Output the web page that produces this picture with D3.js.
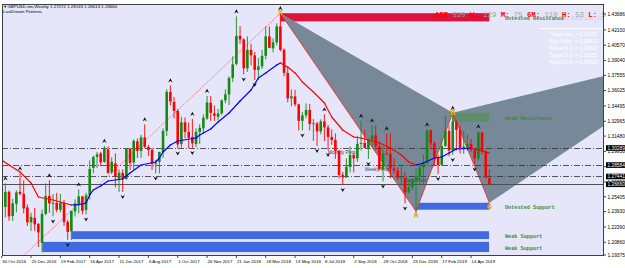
<!DOCTYPE html>
<html lang="en">
<head>
<meta charset="UTF-8">
<title>GBPUSD Weekly</title>
<script src="https://cdn.jsdelivr.net/npm/d3@7"></script>
<style>
  * { margin: 0; padding: 0; }
  body { background: #fff; width: 625px; height: 268px; overflow: hidden; }
  svg { display: block; font-family: "Liberation Sans", "DejaVu Sans", sans-serif; }
</style>
</head>
<body>
<svg id="chart" width="625" height="268"></svg>
<script>
// weekly bars, 30 Oct 2016 .. 19 May 2019 (index 0..133)
const opens = [1.2195,1.2440,1.2590,1.2350,1.2470,1.2590,1.2570,1.2435,1.2285,1.2330,1.2270,1.2080,1.2370,1.2550,1.2470,1.2480,1.2410,1.2480,1.2290,1.2195,
  1.2395,1.2470,1.2545,1.2410,1.2560,1.2830,1.2940,1.2975,1.2890,1.3015,1.2785,1.2875,1.2720,1.2780,1.2720,1.3020,1.2885,1.3095,1.3000,1.3135,
  1.3040,1.3010,1.2875,1.2890,1.2990,1.3200,1.3590,1.3490,1.3400,1.3070,1.3285,1.3190,1.3140,1.3070,1.3190,1.3225,1.3325,1.3480,1.3375,1.3340,
  1.3375,1.3505,1.3565,1.3730,1.3870,1.4150,1.4115,1.3825,1.4010,1.3955,1.3810,1.3845,1.3950,1.4145,1.4025,1.4085,1.4245,1.4010,1.3780,1.3525,
  1.3545,1.3465,1.3300,1.3355,1.3410,1.3270,1.3275,1.3195,1.3295,1.3235,1.3140,1.3110,1.3000,1.2760,1.2735,1.2840,1.2960,1.2925,1.3070,1.3080,
  1.3030,1.3110,1.3155,1.3045,1.2815,1.2975,1.2970,1.2825,1.2805,1.2730,1.2730,1.2585,1.2635,1.2700,1.2740,1.2835,1.2875,1.3205,1.3075,1.2940,
  1.2860,1.3050,1.3200,1.3005,1.3290,1.3210,1.3030,1.3045,1.3070,1.3010,1.2925,1.3185,1.2995,1.27272];
const highs = [1.2510,1.2675,1.2605,1.2520,1.2605,1.2775,1.2705,1.2465,1.2380,1.2430,1.2280,1.2415,1.2675,1.2705,1.2570,1.2580,1.2570,1.2510,1.2310,1.2400,
  1.2515,1.2615,1.2550,1.2580,1.2905,1.2950,1.2990,1.2990,1.3050,1.3045,1.2935,1.2975,1.2815,1.2815,1.3030,1.3030,1.3115,1.3125,1.3160,1.3265,
  1.3060,1.3030,1.2910,1.2990,1.3225,1.3615,1.3655,1.3540,1.3420,1.3340,1.3335,1.3285,1.3320,1.3225,1.3265,1.3365,1.3550,1.3550,1.3455,1.3420,
  1.3515,1.3615,1.3745,1.3945,1.4345,1.4250,1.4125,1.4145,1.4070,1.3990,1.3930,1.4010,1.4245,1.4245,1.4125,1.4275,1.4377,1.4025,1.3840,1.3615,
  1.3610,1.3470,1.3390,1.3475,1.3470,1.3320,1.3290,1.3315,1.3365,1.3260,1.3215,1.3175,1.3005,1.2790,1.2925,1.3045,1.2975,1.3150,1.3300,1.3210,
  1.3125,1.3255,1.3255,1.3095,1.3045,1.3175,1.3175,1.2930,1.2840,1.2840,1.2790,1.2705,1.2720,1.2820,1.2865,1.2960,1.3215,1.3215,1.3095,1.2965,
  1.3110,1.3350,1.3255,1.3380,1.3305,1.3255,1.3195,1.3165,1.3120,1.3020,1.3195,1.3190,1.3010,1.28133];
const lows = [1.2155,1.2335,1.2300,1.2300,1.2385,1.2555,1.2375,1.2250,1.2200,1.2200,1.2040,1.1985,1.2355,1.2380,1.2345,1.2385,1.2385,1.2250,1.2110,1.2110,
  1.2345,1.2375,1.2365,1.2365,1.2515,1.2775,1.2830,1.2845,1.2880,1.2770,1.2770,1.2635,1.2590,1.2590,1.2710,1.2810,1.2810,1.2930,1.2930,1.3025,
  1.2950,1.2810,1.2775,1.2775,1.2930,1.3150,1.3455,1.3325,1.3025,1.3030,1.3125,1.3025,1.3030,1.3040,1.3070,1.3170,1.3310,1.3300,1.3300,1.3305,
  1.3360,1.3475,1.3460,1.3690,1.3855,1.4070,1.3765,1.3790,1.3855,1.3710,1.3710,1.3820,1.3915,1.4025,1.3985,1.4055,1.3995,1.3745,1.3485,1.3445,
  1.3445,1.3205,1.3205,1.3325,1.3205,1.3100,1.3050,1.3165,1.3100,1.3010,1.3060,1.2920,1.2725,1.2660,1.2730,1.2785,1.2785,1.2890,1.3005,1.3030,
  1.2920,1.3045,1.3010,1.2815,1.2695,1.2960,1.2725,1.2770,1.2705,1.2660,1.2475,1.2575,1.2605,1.2395,1.2670,1.2670,1.2865,1.3015,1.2855,1.2770,
  1.2850,1.3040,1.2945,1.2960,1.3005,1.2975,1.2970,1.3000,1.2990,1.2865,1.2905,1.2965,1.2725,1.26613];
const closes = [1.2485,1.2590,1.2345,1.2475,1.2585,1.2570,1.2425,1.2285,1.2340,1.2265,1.2185,1.2370,1.2550,1.2475,1.2480,1.2410,1.2480,1.2290,1.2190,1.2400,
  1.2475,1.2545,1.2400,1.2555,1.2820,1.2940,1.2965,1.2885,1.3030,1.2780,1.2890,1.2745,1.2780,1.2720,1.3025,1.2880,1.3100,1.3000,1.3135,1.3040,
  1.3010,1.2870,1.2880,1.2990,1.3200,1.3590,1.3495,1.3400,1.3065,1.3285,1.3190,1.3130,1.3075,1.3190,1.3230,1.3330,1.3485,1.3380,1.3350,1.3375,
  1.3505,1.3565,1.3730,1.3865,1.4150,1.4115,1.3825,1.4010,1.3955,1.3810,1.3845,1.3950,1.4145,1.4030,1.4085,1.4245,1.4010,1.3780,1.3525,1.3545,
  1.3465,1.3300,1.3355,1.3410,1.3270,1.3275,1.3195,1.3295,1.3235,1.3140,1.3110,1.3000,1.2760,1.2735,1.2840,1.2960,1.2925,1.3070,1.3080,1.3030,
  1.3110,1.3155,1.3045,1.2815,1.2975,1.2970,1.2825,1.2805,1.2730,1.2730,1.2585,1.2635,1.2700,1.2740,1.2835,1.2875,1.3205,1.3075,1.2940,1.2860,
  1.3050,1.3200,1.3005,1.3290,1.3210,1.3030,1.3045,1.3070,1.3010,1.2925,1.3185,1.2995,1.2730,1.26660];

// moving average (bar index, price)
const maIdx = [0,2,5,8,10,14,16,19,21,23,24,25,27,29,33,35,38,42,43,44,46,48,53,54,57,59,62,65,68,70,72,75,76,
  78,80,82,85,88,90,93,96,98,103,106,109,111,113,115,118,120,122,124,127,128,130,133];
const maVal = [1.2909,1.2859,1.2789,1.2679,1.2539,1.2509,1.2489,1.2459,1.2462,1.2479,1.2559,1.2609,1.2649,1.2699,1.2719,1.2779,1.2859,1.2889,1.2929,1.2989,1.3059,1.3099,1.3129,1.3159,1.3219,1.3289,1.3379,1.3499,1.3609,1.3729,1.3779,1.3859,1.3879,
  1.3839,1.3779,1.3689,1.3589,1.3479,1.3339,1.3209,1.3139,1.3129,1.3079,1.3029,1.2959,1.2889,1.2859,1.2879,1.2929,1.2939,1.2979,1.3019,1.3025,1.3029,1.3009,1.2979];

// fractal arrows (bar index)
const fractalUp = [1,5,13,21,28,39,46,52,56,64,76,88,98,101,105,116,123,130];
const fractalDown = [11,14,18,23,33,42,48,52,66,69,82,86,89,93,100,104,110,119,123,129];

// x axis
const tickIdx = [0,8,16,24,32,40,48,56,64,72,80,88,96,104,112,120,128];
const tickLabels = ['30 Oct 2016','25 Dec 2016','19 Feb 2017','16 Apr 2017','11 Jun 2017','6 Aug 2017','1 Oct 2017','26 Nov 2017',
  '21 Jan 2018','18 Mar 2018','13 May 2018','8 Jul 2018','2 Sep 2018','28 Oct 2018','23 Dec 2018','17 Feb 2019','14 Apr 2019'];
// y axis
const priceLabels = [1.43686,1.42100,1.40570,1.39040,1.37555,1.36025,1.34495,1.32965,1.31480,1.29950,1.28420,1.26890,1.25405,1.23930,1.22390,1.20860,1.19375];

// pattern points X A B C D
const patIdx = [76,113,123,133,196];
const patVal = [1.43770,1.23950,1.33810,1.24813,1.40333];
const patNames = ['X','A','B','C'];

// zones
const zoneNames = ['Untested Resistance','Weak Resistance','Untested Support','Weak Support','Weak Support'];
const zoneStart = [76,123,113,19,11];
const zoneTop = [1.43770,1.33810,1.24813,1.22000,1.20950];
const zoneBottom = [1.42950,1.32900,1.24119,1.21150,1.19850];

// pivot / price lines
const lineNames = ['Monthly Pivot','Weekly Pivot','Daily Pivot',''];
const lineVals = [1.30289,1.28584,1.27441,1.26660];
const lineLabelIdx = [89,99,110,0];

const infoLabels = ['StopLoss','Buy Order','Target D 1','Target D 2','Target D 3'];
const infoVals = ['1.24119','1.24813','1.33810','1.35655','1.40333'];

const svg = d3.select('#chart');
const L = 2, R = 604, T = 4, B = 256;
const x = d3.scaleLinear().domain([0, 133]).range([1.7, 489.4]);
const y = d3.scaleLinear().domain([1.19489, 1.44689]).range([B, T]);

svg.append('rect').attr('width', 625).attr('height', 268).attr('fill', '#ffffff');
svg.append('rect').attr('x', L).attr('y', T).attr('width', R - L).attr('height', B - T).attr('fill', '#e6e6fa');

svg.append('clipPath').attr('id', 'clip')
  .append('rect').attr('x', L).attr('y', T).attr('width', R - L).attr('height', B - T);
const g = svg.append('g').attr('clip-path', 'url(#clip)');

// zones
zoneNames.forEach((n, k) => {
  const fill = k === 0 ? '#dc143c' : k === 1 ? '#5f8f6a' : '#4169e1';
  g.append('rect')
    .attr('x', x(zoneStart[k])).attr('y', y(zoneTop[k]))
    .attr('width', x(133) - x(zoneStart[k])).attr('height', y(zoneBottom[k]) - y(zoneTop[k]))
    .attr('fill', fill).attr('stroke', k >= 3 ? '#ffffff' : 'none').attr('stroke-width', 0.6);
});

// harmonic triangles
const P = patIdx.map((v, k) => [x(v), y(patVal[k])]);
g.append('path').attr('d', d3.line()([P[0], P[1], P[2]]) + 'Z').attr('fill', '#778899');
g.append('path').attr('d', d3.line()([P[2], P[3], P[4]]) + 'Z').attr('fill', '#778899');
// green zone sits on top of the gray
g.append('rect')
  .attr('x', x(zoneStart[1])).attr('y', y(zoneTop[1]))
  .attr('width', x(133) - x(zoneStart[1])).attr('height', y(zoneBottom[1]) - y(zoneTop[1]))
  .attr('fill', '#5f8f6a');

// trend line into X
g.append('line')
  .attr('x1', x(0)).attr('y1', y(1.1745)).attr('x2', P[0][0]).attr('y2', P[0][1])
  .attr('stroke', '#f07878').attr('stroke-width', 0.9).attr('stroke-dasharray', '2,1');

// zigzag X-A-B-C
g.append('path').attr('d', d3.line()(P.slice(0, 4)))
  .attr('fill', 'none').attr('stroke', '#ff2020').attr('stroke-width', 0.8);

// pivot lines
lineVals.forEach((v, k) => {
  const ly = Math.round(y(v)) + 0.5;
  g.append('line').attr('x1', L).attr('x2', R).attr('y1', ly).attr('y2', ly)
    .attr('stroke', k === 3 ? '#505050' : '#303030').attr('stroke-width', k === 3 ? 1 : 0.8)
    .attr('stroke-dasharray', k === 3 ? null : '6,2,1,2');
  if (lineNames[k]) {
    g.append('text').attr('x', x(lineLabelIdx[k])).attr('y', ly + 5)
      .attr('font-size', 4.6).attr('fill', '#404040').text(lineNames[k]);
  }
});

// candles
const bull = '#138a13', bear = '#ff0000';
const cg = g.append('g');
closes.forEach((c, i) => {
  const col = c >= opens[i] ? bull : bear;
  const cx = x(i);
  cg.append('line').attr('x1', cx).attr('x2', cx).attr('y1', y(highs[i])).attr('y2', y(lows[i]))
    .attr('stroke', col).attr('stroke-width', 0.9);
  const top = y(Math.max(opens[i], c)), bot = y(Math.min(opens[i], c));
  cg.append('rect').attr('x', cx - 1.3).attr('y', top).attr('width', 2.6).attr('height', Math.max(0.8, bot - top))
    .attr('fill', col);
});

// moving average, coloured by slope
for (let k = 0; k < maIdx.length - 1; k++) {
  g.append('line')
    .attr('x1', x(maIdx[k])).attr('y1', y(maVal[k])).attr('x2', x(maIdx[k + 1])).attr('y2', y(maVal[k + 1]))
    .attr('stroke', maVal[k + 1] > maVal[k] ? '#0000ff' : '#ff0000').attr('stroke-width', 1.2)
    .attr('stroke-linecap', 'round');
}

// fractals
const upArrow = 'M-2.2,2L0,-2.2L2.2,2L0,0.6Z';
const downArrow = 'M-2.2,-2L0,2.2L2.2,-2L0,-0.6Z';
fractalUp.forEach(i => {
  g.append('path').attr('d', upArrow).attr('transform', `translate(${x(i)},${y(highs[i]) - 5})`)
    .attr('fill', '#101010');
});
fractalDown.forEach(i => {
  g.append('path').attr('d', downArrow).attr('transform', `translate(${x(i)},${y(lows[i]) + 5})`)
    .attr('fill', '#101010');
});

// pattern letters
patNames.forEach((n, k) => {
  const below = k === 1 || k === 3;
  g.append('text').attr('x', P[k][0]).attr('y', P[k][1] + (below ? 6 : 2))
    .attr('text-anchor', 'middle').attr('font-size', 6.5).attr('font-weight', 'bold')
    .attr('fill', '#ffd700').attr('stroke', '#c08000').attr('stroke-width', 0.3).text(n);
});

// zone labels
svg.append('text').attr('x', 603).attr('y', y(zoneTop[0]) / 2 + y(zoneBottom[0]) / 2 + 3).attr('text-anchor', 'end')
  .attr('font-family', '"Liberation Mono", monospace').attr('font-size', 5.2)
  .attr('fill', '#cdd2e2').text('Bat_Bearish_11');
zoneNames.forEach((n, k) => {
  svg.append('text').attr('x', 505).attr('y', (y(zoneTop[k]) + y(zoneBottom[k])) / 2 + 3)
    .attr('font-family', '"Liberation Mono", monospace').attr('font-size', 5.2).attr('font-weight', 'bold')
    .attr('fill', '#3a8a3a').text(n);
});

// header info line
const hdr = [['ADR ', '520 '], ['W: ', '129 '], ['M: ', '75 '], ['6M: ', '110 '], ['H: ', '53 '], ['L: ', '5']];
const ht = svg.append('text').attr('x', 435).attr('y', 17)
  .attr('font-family', '"Liberation Mono", monospace').attr('font-size', 7.3);
hdr.forEach(([a, b]) => {
  ht.append('tspan').attr('fill', '#ff0000').attr('font-weight', 'bold').text(a);
  ht.append('tspan').attr('fill', '#a0a0a0').text(b);
});

// info panel
svg.append('line').attr('x1', 539).attr('x2', 603).attr('y1', 28.5).attr('y2', 28.5).attr('stroke', '#ffffff');
infoLabels.forEach((n, k) => {
  svg.append('text').attr('x', 572).attr('y', 36 + k * 7).attr('text-anchor', 'end')
    .attr('font-size', 5).attr('fill', '#ffffff').text(n);
  svg.append('text').attr('x', 575).attr('y', 36 + k * 7)
    .attr('font-size', 5).attr('fill', '#ffffff').text('= ' + infoVals[k]);
});

// titles
svg.append('text').attr('x', 4).attr('y', 8).attr('font-size', 4.4).attr('fill', '#000')
  .text('\u25BE GBPUSD.mn,Weekly  1.27272 1.28133 1.26613 1.26660');
svg.append('text').attr('x', 3).attr('y', 13).attr('font-size', 4.4).attr('fill', '#000').text('LastDream Patterns');

// frame
svg.append('rect').attr('x', L + 0.5).attr('y', T + 0.5).attr('width', R - L - 1).attr('height', B - T - 1)
  .attr('fill', 'none').attr('stroke', '#404040').attr('stroke-width', 1);

// y axis labels
priceLabels.forEach(v => {
  const py = Math.min(y(v), B - 1);
  svg.append('line').attr('x1', R).attr('x2', R + 2).attr('y1', py).attr('y2', py).attr('stroke', '#404040');
  svg.append('text').attr('x', R + 3.5).attr('y', py + 1.7).attr('font-size', 4.8).attr('fill', '#000').text(v.toFixed(5));
});
lineVals.forEach(v => {
  const py = y(v);
  svg.append('rect').attr('x', R + 2).attr('y', py - 2.8).attr('width', 19).attr('height', 5.6).attr('fill', '#000');
  svg.append('text').attr('x', R + 3.5).attr('y', py + 1.7).attr('font-size', 4.8).attr('fill', '#fff').text(v.toFixed(5));
});

// x axis labels
tickIdx.forEach((i, k) => {
  svg.append('line').attr('x1', x(i)).attr('x2', x(i)).attr('y1', B).attr('y2', B + 2).attr('stroke', '#404040');
  svg.append('text').attr('x', x(i) + 0.5).attr('y', 262.5).attr('font-size', 4.4).attr('fill', '#000').text(tickLabels[k]);
});
</script>
</body>
</html>
